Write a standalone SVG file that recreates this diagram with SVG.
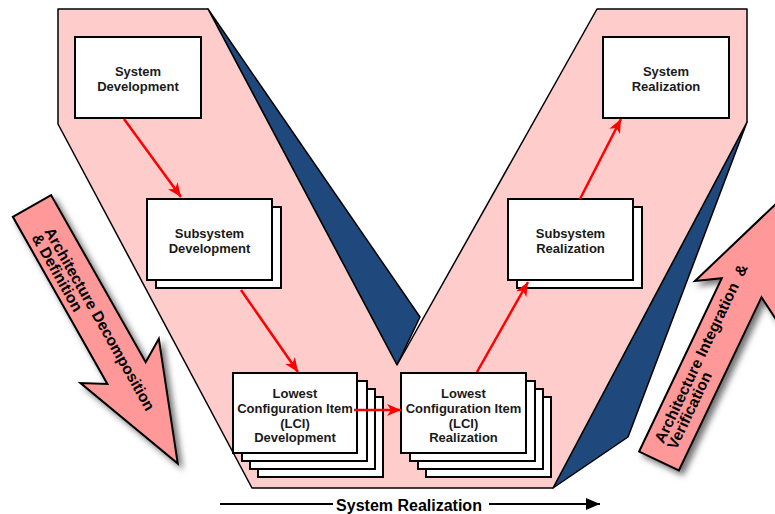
<svg xmlns="http://www.w3.org/2000/svg" width="775" height="514" viewBox="0 0 775 514">
<style>
.box{fill:#ffffff;stroke:#000000;stroke-width:2}
.lbl{font-family:"Liberation Sans",Arial,sans-serif;font-weight:bold;font-size:13px;text-anchor:middle;fill:#1a1a1a}
.big{font-family:"Liberation Sans",Arial,sans-serif;font-weight:bold;font-size:15.5px;fill:#000000}
.conn{stroke:#ff0000;stroke-width:2.5;fill:none;marker-end:url(#ah)}
.barrow{fill:#ff9999;stroke:#000000;stroke-width:2;stroke-linejoin:miter}
</style>
<defs>
<marker id="ah" markerUnits="userSpaceOnUse" markerWidth="15" markerHeight="13" refX="14" refY="6" orient="auto" viewBox="0 0 15 12">
<path d="M0,0 L14,6 L0,12 L4,6 Z" fill="#ff0000"/>
</marker>
<marker id="bh" markerUnits="userSpaceOnUse" markerWidth="15" markerHeight="13" refX="14" refY="6" orient="auto" viewBox="0 0 15 12">
<path d="M0,0 L14,6 L0,12 Z" fill="#000000"/>
</marker>
<filter id="sh" x="-20%" y="-20%" width="140%" height="140%">
<feDropShadow dx="4" dy="4" stdDeviation="3" flood-color="#000000" flood-opacity="0.55"/>
</filter>
</defs>
<g id="background">
<polygon points="208,9 420,317 397,365" fill="#1f497d" stroke="#000000" stroke-width="1.5" stroke-linejoin="round"/>
<polygon points="747,122 553,488 628,437" fill="#1f497d" stroke="#000000" stroke-width="1.5" stroke-linejoin="round"/>
<polygon points="58,9 208,9 397,365 597,9 747,9 747,122 553,488 252,488 58,124" fill="#ffcccc" stroke="#000000" stroke-width="1.5" stroke-linejoin="round"/>
</g>
<g id="arrow-decomposition">
<g filter="url(#sh)"><path class="barrow" transform="translate(32,206) rotate(60.5)" d="M0,-22 L192,-22 L178,-45 L296,0 L178,45 L192,22 L0,22 Z"/></g>
<text class="big" transform="translate(32,206) rotate(60.5)"><tspan x="28" y="2">Architecture Decomposition</tspan><tspan x="27" y="16">&amp; Definition</tspan></text>
</g>
<g id="arrow-integration">
<g filter="url(#sh)"><path class="barrow" transform="translate(659,461) rotate(-64.5)" d="M0,-22 L192,-22 L178,-45 L296,0 L178,45 L192,22 L0,22 Z"/></g>
<text class="big" transform="translate(659,461) rotate(-64.5)"><tspan x="17" y="-3">Architecture Integration <tspan dx="5">&amp;</tspan></tspan><tspan x="17" y="11">Verification</tspan></text>
</g>
<g id="system-development">
<rect class="box" x="75" y="37" width="126" height="81"/>
<text class="lbl"><tspan x="138" y="76">System</tspan><tspan x="138" y="91">Development</tspan></text>
</g>
<g id="system-realization">
<rect class="box" x="603" y="37" width="126" height="81"/>
<text class="lbl"><tspan x="666" y="76">System</tspan><tspan x="666" y="91">Realization</tspan></text>
</g>
<g id="subsystem-development">
<rect class="box" x="156" y="207" width="125" height="81"/>
<rect class="box" x="147" y="199" width="125" height="81"/>
<text class="lbl"><tspan x="209.5" y="238">Subsystem</tspan><tspan x="209.5" y="253">Development</tspan></text>
</g>
<g id="subsystem-realization">
<rect class="box" x="517" y="207" width="125" height="81"/>
<rect class="box" x="508" y="199" width="125" height="81"/>
<text class="lbl"><tspan x="570.5" y="238">Subsystem</tspan><tspan x="570.5" y="253">Realization</tspan></text>
</g>
<g id="lci-development">
<rect class="box" x="258" y="397" width="125" height="80"/>
<rect class="box" x="250" y="389" width="125" height="80"/>
<rect class="box" x="242" y="381" width="125" height="80"/>
<rect class="box" x="233" y="373" width="124" height="80"/>
<text class="lbl"><tspan x="295" y="398">Lowest</tspan><tspan x="295" y="413">Configuration Item</tspan><tspan x="295" y="428">(LCI)</tspan><tspan x="295" y="442">Development</tspan></text>
</g>
<g id="lci-realization">
<rect class="box" x="426" y="397" width="125" height="80"/>
<rect class="box" x="418" y="389" width="125" height="80"/>
<rect class="box" x="410" y="381" width="125" height="80"/>
<rect class="box" x="401" y="373" width="125" height="80"/>
<text class="lbl"><tspan x="463.5" y="398">Lowest</tspan><tspan x="463.5" y="413">Configuration Item</tspan><tspan x="463.5" y="428">(LCI)</tspan><tspan x="463.5" y="442">Realization</tspan></text>
</g>
<g id="connectors">
<line class="conn" x1="124" y1="119" x2="181" y2="197"/>
<line class="conn" x1="241" y1="290" x2="298" y2="372"/>
<line class="conn" x1="354" y1="410" x2="401" y2="410"/>
<line class="conn" x1="477" y1="372" x2="528" y2="282"/>
<line class="conn" x1="580" y1="199" x2="621" y2="119"/>
</g>
<g id="system-realization-axis">
<line x1="220" y1="504" x2="333" y2="504" stroke="#000000" stroke-width="2"/>
<line x1="489" y1="504" x2="600" y2="504" stroke="#000000" stroke-width="2" marker-end="url(#bh)"/>
<text x="409" y="511" font-family="'Liberation Sans',Arial,sans-serif" font-weight="bold" font-size="16px" text-anchor="middle" fill="#000000">System Realization</text>
</g>
</svg>
